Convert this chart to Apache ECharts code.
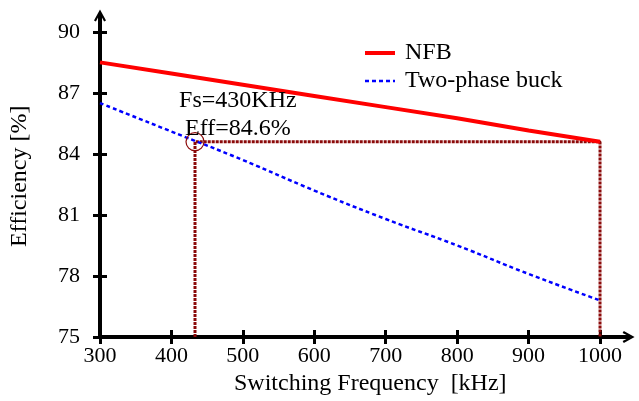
<!DOCTYPE html>
<html>
<head>
    <meta charset="utf-8"/>
    <style>
        html, body {
            margin: 0;
            padding: 0;
            background: #ffffff;
        }

        #main {
            width: 639px;
            height: 401px;
        }
    </style>
</head>
<body>
<div id="main"></div>
<script src="https://cdn.jsdelivr.net/npm/echarts@6/dist/echarts.min.js"></script>
<script type="text/javascript">
    // data
    var freq = [300, 400, 500, 600, 700, 800, 900, 1000];
    var nfbEff = [88.5, 87.95, 87.4, 86.85, 86.3, 85.75, 85.15, 84.6];
    var buckEff = [86.5, 85.1, 83.7, 82.2, 80.8, 79.5, 78.1, 76.8];
    var xTicks = [300, 400, 500, 600, 700, 800, 900, 1000];
    var yTicks = [75, 78, 81, 84, 87, 90];
    var markFreq = 433;
    var markEff = 84.6;
    var notePos = [493, 85.95];
    var noteText = ['Fs=430KHz', 'Eff=84.6%'];

    var font = '"Liberation Serif", "Times New Roman", serif';
    var chevron = 'path://M0,9 L5,0 L10,9 L8.4,10 L5,3.4 L1.6,10 Z';

    var myChart = echarts.init(document.getElementById('main'));

    function pairs(xs, ys) {
        var out = [];
        for (var i = 0; i < xs.length; i++) {
            out.push([xs[i], ys[i]]);
        }
        return out;
    }

    var guide = [
        [markFreq, 75],
        [markFreq, markEff],
        [1000, markEff],
        [1000, 75]
    ];

    var option = {
        animation: false,
        legend: {
            left: 358,
            top: 36,
            orient: 'vertical',
            itemWidth: 30,
            itemHeight: 14,
            itemGap: 4,
            data: [
                {name: 'NFB', lineStyle: {width: 4}},
                {name: 'Two-phase buck', lineStyle: {width: 2.5}}
            ],
            itemStyle: {color: 'rgba(0,0,0,0)', borderWidth: 0, opacity: 0},
            textStyle: {
                fontFamily: font,
                fontSize: 24,
                lineHeight: 24,
                color: '#000000',
                padding: [0, 0, 0, 5]
            }
        },
        grid: {
            left: 100,
            right: 10.4,
            top: 15.6,
            bottom: 61,
            containLabel: false
        },
        xAxis: [{
            type: 'value',
            min: 300,
            max: 1040,
            interval: 100,
            name: 'Switching Frequency  [kHz]',
            nameLocation: 'middle',
            nameGap: 35,
            nameTextStyle: {fontFamily: font, fontSize: 24, color: '#000000', padding: [0, 0, 0, 12]},
            axisLine: {
                show: true,
                symbol: ['none', chevron],
                symbolSize: [14, 12],
                lineStyle: {color: '#000000', width: 4}
            },
            axisTick: {
                show: true,
                customValues: xTicks,
                length: 7,
                lineStyle: {color: '#000000', width: 3}
            },
            axisLabel: {
                customValues: xTicks,
                margin: 8,
                fontFamily: font,
                fontSize: 22,
                color: '#000000',
                formatter: function (v) { return String(v); }
            },
            splitLine: {show: false}
        }, {
            type: 'value',
            position: 'bottom',
            min: 300,
            max: 1040,
            interval: 100,
            axisLine: {show: false},
            axisTick: {
                show: true,
                inside: true,
                customValues: xTicks,
                length: 7,
                lineStyle: {color: '#000000', width: 3}
            },
            axisLabel: {show: false},
            splitLine: {show: false}
        }],
        yAxis: [{
            type: 'value',
            min: 75,
            max: 90.8,
            interval: 3,
            name: 'Efficiency [%]',
            nameLocation: 'middle',
            nameGap: 68,
            nameTextStyle: {fontFamily: font, fontSize: 24, color: '#000000'},
            axisLine: {
                show: true,
                symbol: ['none', chevron],
                symbolSize: [14, 12],
                lineStyle: {color: '#000000', width: 4}
            },
            axisTick: {
                show: true,
                customValues: yTicks,
                length: 7,
                lineStyle: {color: '#000000', width: 3}
            },
            axisLabel: {
                customValues: yTicks,
                margin: 20,
                fontFamily: font,
                fontSize: 22,
                color: '#000000'
            },
            splitLine: {show: false}
        }, {
            type: 'value',
            position: 'left',
            min: 75,
            max: 90.8,
            interval: 3,
            axisLine: {show: false},
            axisTick: {
                show: true,
                inside: true,
                customValues: yTicks,
                length: 7,
                lineStyle: {color: '#000000', width: 3}
            },
            axisLabel: {show: false},
            splitLine: {show: false}
        }],
        series: [{
            name: 'guide',
            type: 'line',
            symbol: 'none',
            data: guide,
            lineStyle: {color: '#8b0a0a', width: 3, type: [3, 1]},
            z: 1
        }, {
            name: 'NFB',
            type: 'line',
            symbol: 'none',
            data: pairs(freq, nfbEff),
            lineStyle: {color: '#ff0000', width: 4},
            itemStyle: {color: '#ff0000'},
            z: 3
        }, {
            name: 'Two-phase buck',
            type: 'line',
            symbol: 'none',
            smooth: true,
            data: pairs(freq, buckEff),
            lineStyle: {color: '#0000ff', width: 2.5, type: [4, 3]},
            itemStyle: {color: '#0000ff'},
            z: 3
        }, {
            name: 'point',
            type: 'scatter',
            symbol: 'circle',
            symbolSize: 18,
            data: [[markFreq, markEff]],
            itemStyle: {color: 'rgba(0,0,0,0)', borderColor: '#8b0a0a', borderWidth: 1.2, opacity: 1},
            z: 4
        }, {
            name: 'note',
            type: 'scatter',
            symbolSize: 0,
            data: [notePos],
            itemStyle: {opacity: 1},
            label: {
                show: true,
                position: 'inside',
                formatter: noteText.join('\n'),
                fontFamily: font,
                fontSize: 24,
                lineHeight: 28,
                color: '#000000',
                opacity: 1,
                textBorderWidth: 0
            },
            z: 5
        }]
    };

    myChart.setOption(option);
</script>
</body>
</html>
